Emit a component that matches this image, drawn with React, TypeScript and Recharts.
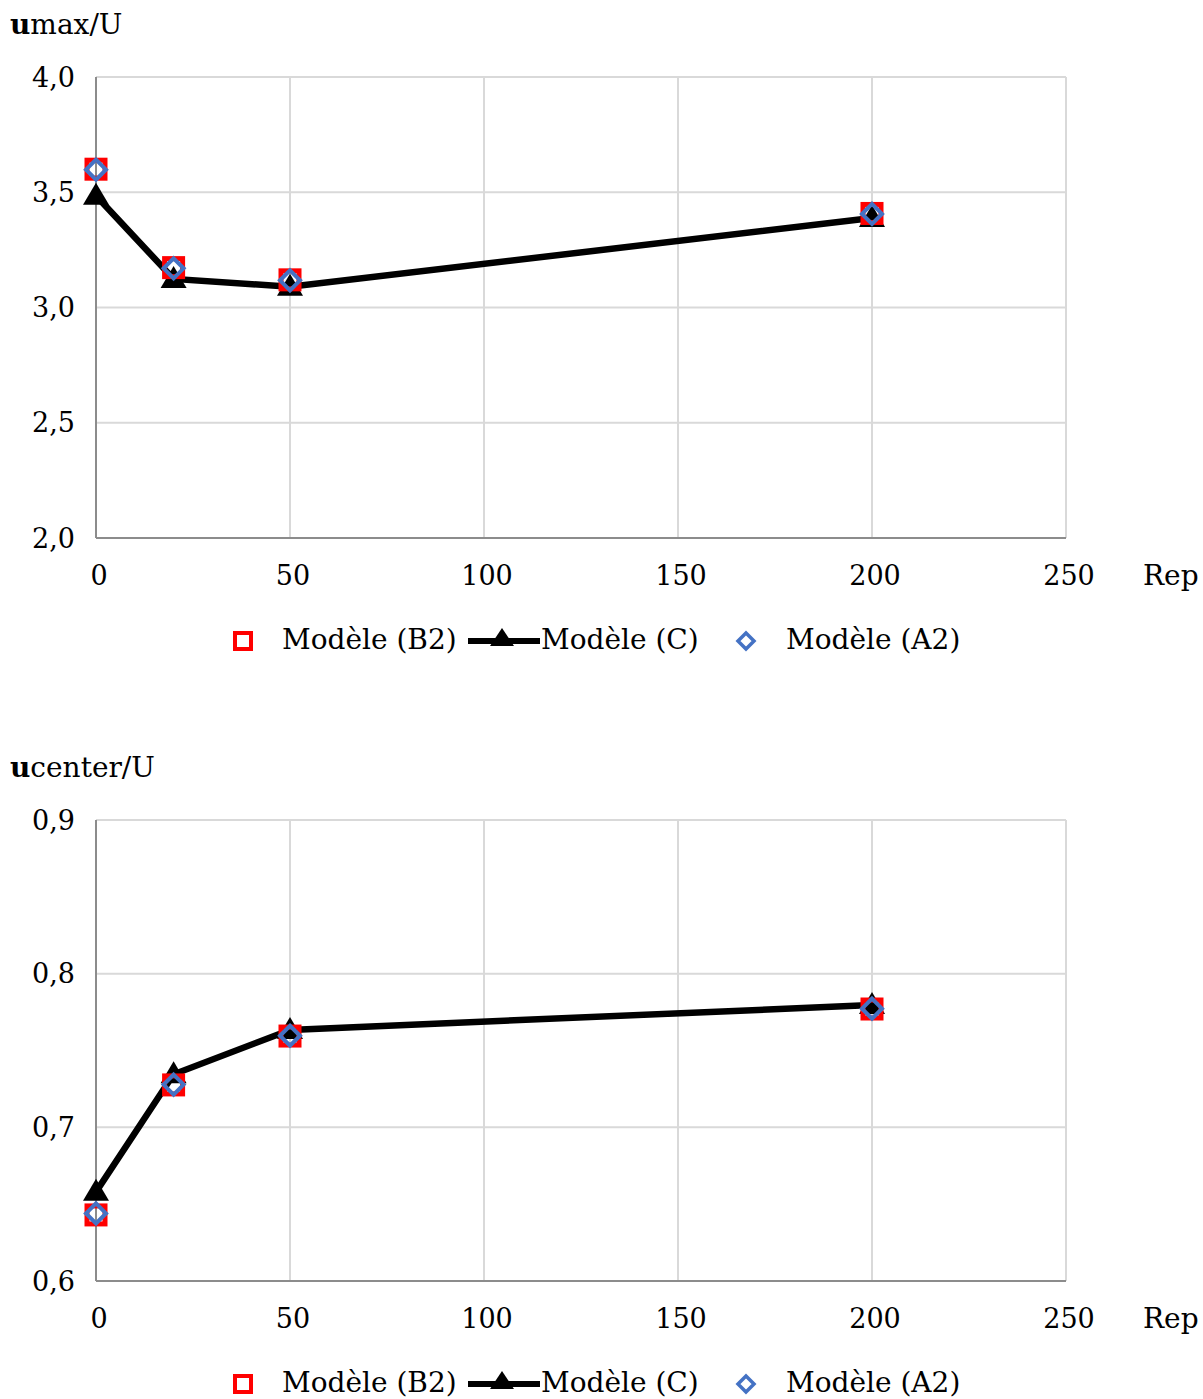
import { LineChart, Line, XAxis, YAxis, CartesianGrid } from "recharts";

const REP = [0, 20, 50, 200];
const X_TICKS = [0, 50, 100, 150, 200, 250];

const UMAX_B2 = [3.6, 3.173, 3.12, 3.408];
const UMAX_C = [3.485, 3.124, 3.09, 3.388];
const UMAX_A2 = [3.598, 3.17, 3.118, 3.406];
const UMAX_TICKS = [2.0, 2.5, 3.0, 3.5, 4.0];

const UCENTER_B2 = [0.643, 0.7276, 0.7594, 0.777];
const UCENTER_C = [0.658, 0.7345, 0.7634, 0.7796];
const UCENTER_A2 = [0.644, 0.7278, 0.7596, 0.7772];
const UCENTER_TICKS = [0.6, 0.7, 0.8, 0.9];

const FONT = "'DejaVu Serif', 'Liberation Serif', serif";
const RED = "#ff0000";
const BLUE = "#4472c4";
const GRID = "#d9d9d9";
const AXIS = "#8c8c8c";

const fmt = (v: number) => v.toFixed(1).replace(".", ",");

const squareDot = (p: any) => (
  <rect key={`sq-${p.index}`} x={p.cx - 9} y={p.cy - 9} width={18} height={18} fill="none" stroke={RED} strokeWidth={5} />
);
const diamondDot = (p: any) => (
  <path key={`di-${p.index}`} d={`M${p.cx},${p.cy - 10} L${p.cx + 10},${p.cy} L${p.cx},${p.cy + 10} L${p.cx - 10},${p.cy} Z`} fill="none" stroke={BLUE} strokeWidth={4} />
);
const triangleDot = (p: any) => (
  <path key={`tr-${p.index}`} d={`M${p.cx},${p.cy - 13} L${p.cx + 13},${p.cy + 9} L${p.cx - 13},${p.cy + 9} Z`} fill="#000" />
);

function Legend({ top }: { top: number }) {
  const txt = { position: "absolute" as const, top: top - 14, fontFamily: FONT, fontSize: 28, lineHeight: "28px", color: "#000", whiteSpace: "nowrap" as const };
  return (
    <>
      <svg style={{ position: "absolute", left: 0, top: top - 20, overflow: "visible" }} width={1203} height={40}>
        <rect x={235} y={13} width={16} height={16} fill="none" stroke={RED} strokeWidth={4} />
        <line x1={468} y1={21} x2={540} y2={21} stroke="#000" strokeWidth={6} />
        <path d="M502,8 L514,26 L490,26 Z" fill="#000" />
        <path d="M746,13 L754,21 L746,29 L738,21 Z" fill="none" stroke={BLUE} strokeWidth={3.5} />
      </svg>
      <div style={{ ...txt, left: 282 }}>Modèle (B2)</div>
      <div style={{ ...txt, left: 541 }}>Modèle (C)</div>
      <div style={{ ...txt, left: 786 }}>Modèle (A2)</div>
    </>
  );
}

function Panel({ offset, title, b2, c, a2, ticks, domain }: { offset: number; title: string; b2: number[]; c: number[]; a2: number[]; ticks: number[]; domain: [number, number] }) {
  const data = REP.map((x, i) => ({ x, b2: b2[i], c: c[i], a2: a2[i] }));
  const tickStyle = { fontFamily: FONT, fontSize: 27, fill: "#000" };
  return (
    <div style={{ position: "absolute", left: 0, top: offset, width: 1203, height: 656 }}>
      <div style={{ position: "absolute", left: 10, top: 11, fontFamily: FONT, fontSize: 28, lineHeight: "28px", color: "#000" }}>
        <b>u</b>{title}
      </div>
      <LineChart width={1203} height={656} data={data} margin={{ top: 77, right: 137, bottom: 58, left: 0 }}>
        <CartesianGrid stroke={GRID} strokeWidth={2} />
        <XAxis dataKey="x" type="number" domain={[0, 250]} ticks={X_TICKS} height={60} tickSize={0} tickMargin={28} tick={{ ...tickStyle, dx: 3 }} stroke={AXIS} strokeWidth={2} interval={0} />
        <YAxis type="number" domain={domain} ticks={ticks} width={96} tickSize={0} tickMargin={21} tick={tickStyle} tickFormatter={fmt} stroke={AXIS} strokeWidth={2} interval={0} />
        <Line type="linear" dataKey="c" stroke="#000" strokeWidth={6.5} dot={triangleDot} isAnimationActive={false} />
        <Line type="linear" dataKey="b2" stroke="none" dot={squareDot} isAnimationActive={false} />
        <Line type="linear" dataKey="a2" stroke="none" dot={diamondDot} isAnimationActive={false} />
      </LineChart>
      <div style={{ position: "absolute", left: 1143, top: 562, fontFamily: FONT, fontSize: 28, lineHeight: "28px", color: "#000" }}>Rep</div>
      <Legend top={640} />
    </div>
  );
}

export default function App() {
  return (
    <div style={{ position: "absolute", left: 0, top: 0, width: 1203, height: 1399, background: "#fff" }}>
      <Panel offset={0} title="max/U" b2={UMAX_B2} c={UMAX_C} a2={UMAX_A2} ticks={UMAX_TICKS} domain={[2, 4]} />
      <Panel offset={743} title="center/U" b2={UCENTER_B2} c={UCENTER_C} a2={UCENTER_A2} ticks={UCENTER_TICKS} domain={[0.6, 0.9]} />
    </div>
  );
}
